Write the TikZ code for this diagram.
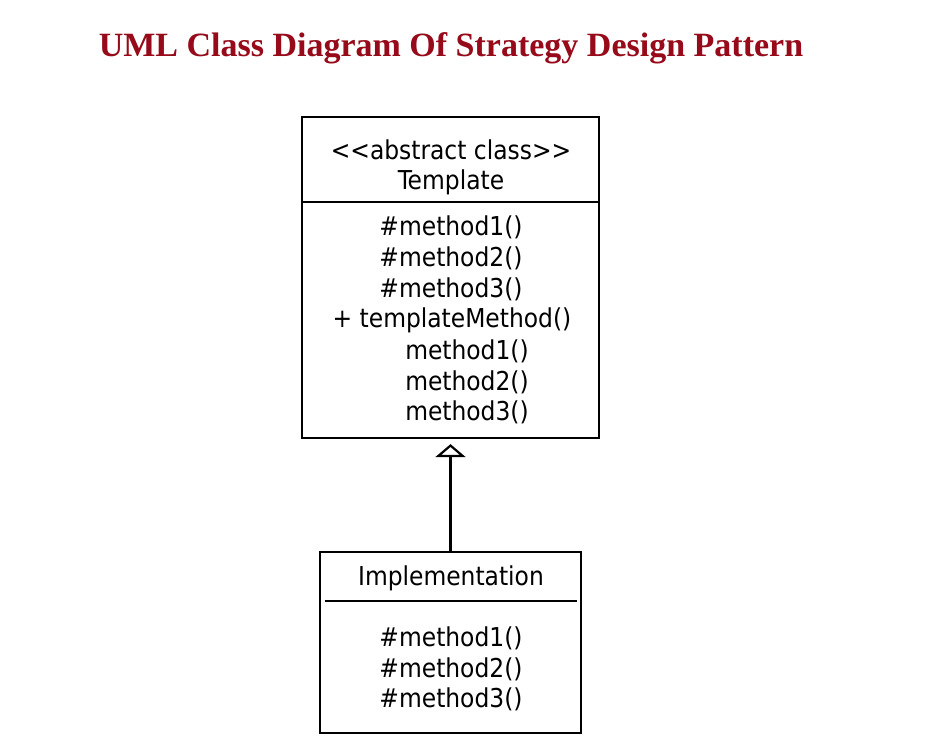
\documentclass[tikz,border=0pt]{standalone}
\usepackage{fontspec}
\setmainfont{DejaVu Sans Condensed}[Ligatures=TeXOff]
\newfontfamily\titlefont{Liberation Serif}
\usepackage{xcolor}
\usetikzlibrary{arrows.meta}
\definecolor{title-red}{RGB}{150,10,25}
\tikzstyle{umlbox}=[draw, line width=2.2pt, inner sep=0pt]
\tikzstyle{txt}=[inner sep=0pt, font=\fontsize{26}{26}\selectfont]
\tikzstyle{heading}=[inner sep=0pt, text=title-red, font=\titlefont\bfseries\fontsize{34}{34}\selectfont]
\tikzstyle{inherit}=[line width=2.2pt, -{Triangle[open, length=13pt, width=30pt, line width=2.2pt]}]

\begin{document}
\begin{tikzpicture}[x=1pt,y=-1pt]
	\useasboundingbox (0,0) rectangle (934,754);
	\node[heading] (title) at (451,48) {UML Class Diagram Of Strategy Design Pattern};
	% abstract class
	\node[umlbox, minimum width=297pt, minimum height=321pt] (tmpl) at (450.5,277.5) {};
	\draw[line width=2.2pt] (302,202) -- (599,202);
	\node[txt] (stereo) at (451,150) {<<abstract class>>};
	\node[txt] (tname) at (451,182) {Template};
	\node[txt] (tm1) at (451,227) {\#method1()};
	\node[txt] (tm2) at (451,258) {\#method2()};
	\node[txt] (tm3) at (451,289) {\#method3()};
	\node[txt] (tpl) at (452,320) {+ templateMethod()};
	\node[txt] (c1) at (467,351) {method1()};
	\node[txt] (c2) at (467,382) {method2()};
	\node[txt] (c3) at (467,412) {method3()};
	% concrete class
	\node[umlbox, minimum width=261pt, minimum height=181pt] (impl) at (450.5,642.5) {};
	\draw[line width=2.2pt] (325,601) -- (577,601);
	\node[txt] (iname) at (451,578) {Implementation};
	\node[txt] (im1) at (451,638) {\#method1()};
	\node[txt] (im2) at (451,669) {\#method2()};
	\node[txt] (im3) at (451,699) {\#method3()};
	% generalization
	\draw[inherit, shorten >=5pt] (impl.north) -- (tmpl.south);
\end{tikzpicture}
\end{document}
